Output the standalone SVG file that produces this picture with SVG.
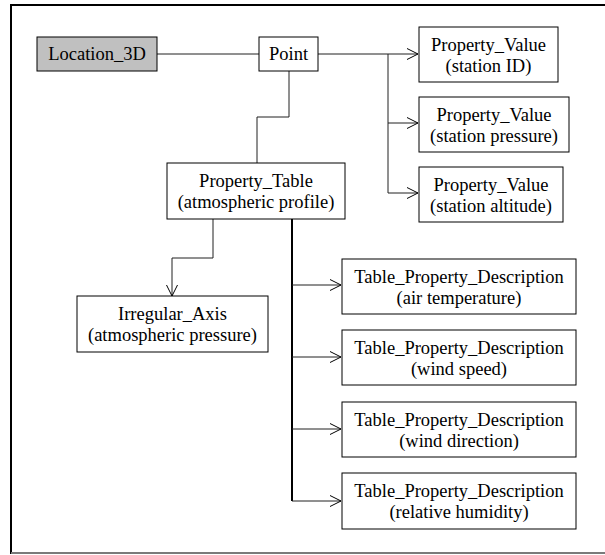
<svg xmlns="http://www.w3.org/2000/svg" width="605" height="555" viewBox="0 0 605 555">
  <style>
    .box { fill: #ffffff; stroke: #000000; stroke-width: 1; }
    .box.shaded { fill: #c0c0c0; }
    .label { font-family: "Liberation Serif", "Times New Roman", serif; font-size: 18.5px; fill: #000000; text-anchor: middle; }
    .wire { fill: none; stroke: #202020; stroke-width: 1; }
    .wire.heavy { stroke-width: 2; stroke: #000000; }
    .arrow { marker-end: url(#open-arrow); }
  </style>
  <defs>
    <marker id="open-arrow" markerUnits="userSpaceOnUse" markerWidth="14" markerHeight="14" refX="11" refY="6" orient="auto">
      <path d="M0,0.5 L11,6 L0,11.5" fill="none" stroke="#000000" stroke-width="1"/>
    </marker>
  </defs>

  <!-- outer frame -->
  <g id="frame">
    <rect x="0" y="0" width="605" height="555" fill="#ffffff"/>
    <line x1="11" y1="5" x2="605" y2="5" stroke="#000000" stroke-width="2"/>
    <line x1="11" y1="4" x2="11" y2="554" stroke="#000000" stroke-width="2"/>
    <line x1="11" y1="553" x2="605" y2="553" stroke="#7a7a7a" stroke-width="2"/>
  </g>

  <!-- connectors -->
  <g id="connectors">
    <path class="wire" d="M157,54 H259"/>
    <path class="wire arrow" d="M318,54 H418"/>
    <path class="wire" d="M388,54 V193"/>
    <path class="wire arrow" d="M388,123 H418"/>
    <path class="wire arrow" d="M388,193 H418"/>
    <path class="wire" d="M289,71 V117 H257 V163"/>
    <path class="wire arrow" d="M213,219 V258 H172 V296"/>
    <path class="wire heavy" d="M292,219 V501"/>
    <path class="wire arrow" d="M292,285 H341"/>
    <path class="wire arrow" d="M292,357 H341"/>
    <path class="wire arrow" d="M292,429 H341"/>
    <path class="wire arrow" d="M292,501 H341"/>
  </g>

  <g id="location-3d">
    <rect class="box shaded" x="37" y="37" width="120" height="34"/>
    <text class="label" x="97" y="60">Location_3D</text>
  </g>

  <g id="point">
    <rect class="box" x="259" y="37" width="59" height="34"/>
    <text class="label" x="288.5" y="60">Point</text>
  </g>

  <g id="pv-station-id">
    <rect class="box" x="419" y="27" width="139" height="55"/>
    <text class="label" x="488.5" y="51">Property_Value</text>
    <text class="label" x="488.5" y="72">(station ID)</text>
  </g>

  <g id="pv-station-pressure">
    <rect class="box" x="419" y="97" width="150" height="55"/>
    <text class="label" x="494" y="121">Property_Value</text>
    <text class="label" x="494" y="142">(station pressure)</text>
  </g>

  <g id="pv-station-altitude">
    <rect class="box" x="419" y="167" width="144" height="55"/>
    <text class="label" x="491" y="191">Property_Value</text>
    <text class="label" x="491" y="212">(station altitude)</text>
  </g>

  <g id="property-table">
    <rect class="box" x="167" y="163" width="178" height="56"/>
    <text class="label" x="256" y="187">Property_Table</text>
    <text class="label" x="256" y="208">(atmospheric profile)</text>
  </g>

  <g id="irregular-axis">
    <rect class="box" x="77" y="296" width="191" height="56"/>
    <text class="label" x="172.5" y="320">Irregular_Axis</text>
    <text class="label" x="172.5" y="341">(atmospheric pressure)</text>
  </g>

  <g id="tpd-air-temperature">
    <rect class="box" x="342" y="259" width="234" height="55"/>
    <text class="label" x="459" y="283">Table_Property_Description</text>
    <text class="label" x="459" y="304">(air temperature)</text>
  </g>

  <g id="tpd-wind-speed">
    <rect class="box" x="342" y="330" width="234" height="55"/>
    <text class="label" x="459" y="354">Table_Property_Description</text>
    <text class="label" x="459" y="375">(wind speed)</text>
  </g>

  <g id="tpd-wind-direction">
    <rect class="box" x="342" y="402" width="234" height="55"/>
    <text class="label" x="459" y="426">Table_Property_Description</text>
    <text class="label" x="459" y="447">(wind direction)</text>
  </g>

  <g id="tpd-relative-humidity">
    <rect class="box" x="342" y="473" width="234" height="56"/>
    <text class="label" x="459" y="497">Table_Property_Description</text>
    <text class="label" x="459" y="518">(relative humidity)</text>
  </g>
</svg>
